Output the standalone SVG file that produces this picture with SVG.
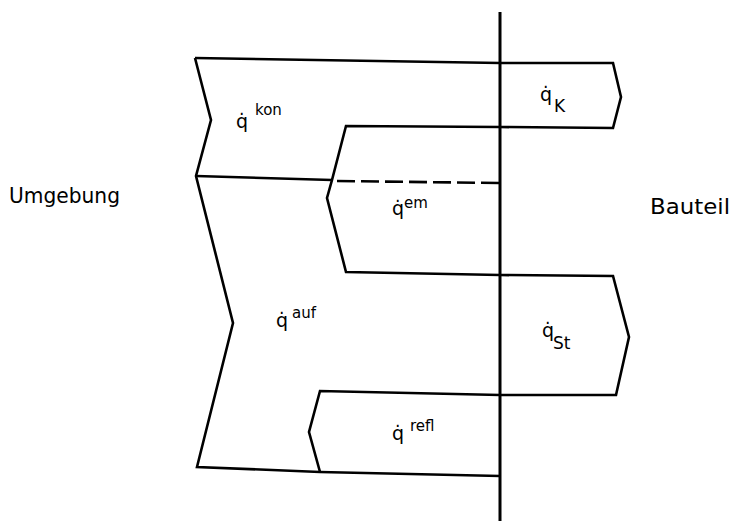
<svg xmlns="http://www.w3.org/2000/svg" width="734" height="521" viewBox="0 0 734 521">
<style>
.ln{fill:none;stroke:#000;stroke-width:2.6;stroke-linejoin:miter;stroke-linecap:butt}
.dash{stroke-dasharray:18 6}
.t{font-family:"DejaVu Sans","Liberation Sans",sans-serif;fill:#000}
.q{font-size:19px}
.sup{font-size:15px}
.sub{font-size:17px}
.big{font-size:22px}
</style>
<rect width="734" height="521" fill="#fff"/>
<g id="connectors">
<path id="boundary" class="ln" d="M500,12 L500,521" style="stroke-width:3"/>
<path id="outline-left" class="ln" d="M195,58 L211,120 L196,176 L233,323 L197,467 L320,472 L500,476"/>
<path id="outline-upper" class="ln" d="M195,58 L500,63 L613,63 L621,97 L613,128 L500,127 L346,126 L332,180 L327,198 L346,272 L500,275 L613,276 L629,337 L616,395 L500,395 L320,391 L309,432 L320,472"/>
<path id="divider" class="ln" d="M196,176 L332,180"/>
<path id="divider-dashed" class="ln dash" d="M337,181 L500,183"/>
</g>
<g id="umgebung"><text class="t big" x="9" y="203" textLength="111" lengthAdjust="spacingAndGlyphs">Umgebung</text></g>
<g id="bauteil"><text class="t big" x="650" y="214" textLength="80" lengthAdjust="spacingAndGlyphs">Bauteil</text></g>
<g id="q-kon"><text class="t q" x="236" y="128">q&#x307;</text><text class="t sup" x="255" y="115">kon</text></g>
<g id="q-K"><text class="t q" x="540" y="101">q&#x307;</text><text class="t sub" x="554" y="112">K</text></g>
<g id="q-em"><text class="t q" x="392" y="215">q&#x307;</text><text class="t sup" x="404" y="208">em</text></g>
<g id="q-auf"><text class="t q" x="276" y="327">q&#x307;</text><text class="t sup" x="292" y="318">auf</text></g>
<g id="q-St"><text class="t q" x="542" y="337">q&#x307;</text><text class="t sub" x="553" y="349">St</text></g>
<g id="q-refl"><text class="t q" x="392" y="440">q&#x307;</text><text class="t sup" x="410" y="431">refl</text></g>
</svg>
